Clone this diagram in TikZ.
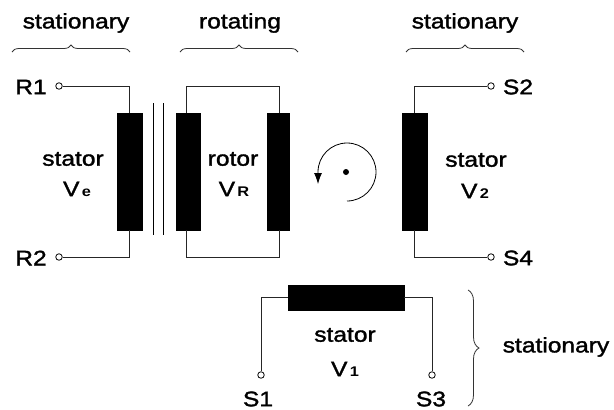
\documentclass[tikz,border=0pt]{standalone}
\usepackage{fontspec}
\setmainfont[FakeStretch=1.17,FakeBold=1.6,BoldFeatures={FakeBold=0}]{Liberation Sans}
\newcommand{\subtxt}[1]{{\fontsize{14}{15}\selectfont\bfseries\,#1}}
\usetikzlibrary{arrows.meta,decorations.pathreplacing}

\tikzset{
    coil/.style={rectangle, draw, fill=black, inner sep=0pt},
    term/.style={circle, draw, fill=white, inner sep=0pt, minimum size=6.5pt, line width=0.8pt},
    txt/.style={inner sep=0pt, font=\fontsize{21}{23}\selectfont},
    wire/.style={line width=1pt, color=black!85},
    bracket/.style={line width=0.8pt, color=black!80, decorate, decoration={brace, amplitude=7pt}}
}

\begin{document}
\begin{tikzpicture}[x=1pt, y=-1pt]
    \useasboundingbox (0,0) rectangle (614,410);

    % Group labels on top
    \node[txt] (top1) at (76,23) {stationary};
    \node[txt] (top2) at (240,23) {rotating};
    \node[txt] (top3) at (465,23) {stationary};

    % Braces under the labels
    \coordinate (b1a) at (12,52);
    \coordinate (b1b) at (130,52);
    \coordinate (b2a) at (180,52);
    \coordinate (b2b) at (298,52);
    \coordinate (b3a) at (406,52);
    \coordinate (b3b) at (524,52);
    \draw[bracket] (b1a) -- (b1b);
    \draw[bracket] (b2a) -- (b2b);
    \draw[bracket] (b3a) -- (b3b);

    % Left stator
    \node[coil, minimum width=25pt, minimum height=117pt] (statorE) at (129.5,171.5) {};
    \node[term] (R1) at (59,86) {};
    \node[term] (R2) at (59,257) {};
    \draw[wire] (R1) -| (statorE.north);
    \draw[wire] (R2) -| (statorE.south);
    \node[txt] (labR1) at (31,87) {R1};
    \node[txt] (labR2) at (31,258) {R2};
    \node[txt] (labStatorE) at (73,159) {stator};
    \node[txt] (labVe) at (77,189) {V\subtxt{e}};

    % Core lines
    \coordinate (c1a) at (153,103);
    \coordinate (c1b) at (153,235);
    \coordinate (c2a) at (163,103);
    \coordinate (c2b) at (163,235);
    \draw[line width=0.8pt] (c1a) -- (c1b);
    \draw[line width=0.8pt] (c2a) -- (c2b);

    % Rotor
    \node[coil, minimum width=24pt, minimum height=117pt] (rotorL) at (188,171.5) {};
    \node[coil, minimum width=22pt, minimum height=117pt] (rotorR) at (278,171.5) {};
    \coordinate (rtl) at (186,86);
    \coordinate (rtr) at (279,86);
    \coordinate (rbl) at (186,257);
    \coordinate (rbr) at (279,257);
    \draw[wire] (rtl |- rotorL.north) -- (rtl) -- (rtr) -- (rtr |- rotorR.north);
    \draw[wire] (rbl |- rotorL.south) -- (rbl) -- (rbr) -- (rbr |- rotorR.south);
    \node[txt] (labRotor) at (233,159) {rotor};
    \node[txt] (labVR) at (234,189) {V\subtxt{R}};

    % Rotation sign
    \node[circle, fill=black, inner sep=0pt, minimum size=6pt] (axis) at (346,172) {};
    \draw[line width=0.8pt, -{Latex[length=11pt, width=8pt]}] (347,201) arc[start angle=-90, end angle=180, radius=29pt] -- ++(0,12);

    % Right stator
    \node[coil, minimum width=25pt, minimum height=117pt] (statorB) at (414.5,171.5) {};
    \node[term] (S2) at (491,86) {};
    \node[term] (S4) at (491,257) {};
    \draw[wire] (S2) -| (statorB.north);
    \draw[wire] (S4) -| (statorB.south);
    \node[txt] (labS2) at (518,87) {S2};
    \node[txt] (labS4) at (518,258) {S4};
    \node[txt] (labStatorB) at (476,160) {stator};
    \node[txt] (labVb) at (475,191) {V\subtxt{2}};

    % Bottom stator
    \node[coil, minimum width=116pt, minimum height=25pt] (statorA) at (346,297.5) {};
    \node[term] (S1) at (261,375) {};
    \node[term] (S3) at (432,375) {};
    \draw[wire] (S1) |- (statorA.west);
    \draw[wire] (S3) |- (statorA.east);
    \node[txt] (labS1) at (258,399) {S1};
    \node[txt] (labS3) at (431,399) {S3};
    \node[txt] (labStatorA) at (345,335) {stator};
    \node[txt] (labVa) at (345,369) {V\subtxt{1}};

    % Right brace
    \coordinate (b4a) at (468,290);
    \coordinate (b4b) at (468,406);
    \draw[bracket, decoration={brace, amplitude=11pt}] (b4a) -- (b4b);
    \node[txt] (side) at (556,347) {stationary};
\end{tikzpicture}
\end{document}
